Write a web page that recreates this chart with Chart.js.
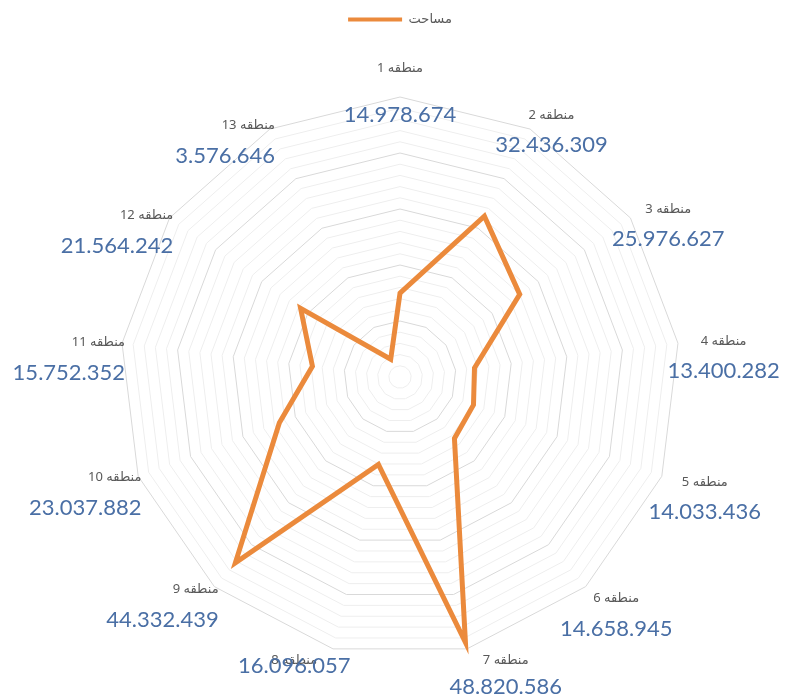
<!DOCTYPE html>
<html>
<head>
<meta charset="utf-8">
<script src="https://cdn.jsdelivr.net/npm/chart.js@4"></script>
<style>
  html, body { margin: 0; padding: 0; background: #fff; }
  #wrap { width: 793px; height: 698px; }
</style>
</head>
<body>
<div id="wrap"><canvas id="radarChart"></canvas></div>
<script>
const regionNames = ["منطقه 1", "منطقه 2", "منطقه 3", "منطقه 4", "منطقه 5", "منطقه 6", "منطقه 7",
  "منطقه 8", "منطقه 9", "منطقه 10", "منطقه 11", "منطقه 12", "منطقه 13"];
const areaValues = [14978674, 32436309, 25976627, 13400282, 14033436, 14658945, 48820586,
  16096057, 44332439, 23037882, 15752352, 21564242, 3576646];
const seriesName = "مساحت";

const ORANGE = "#EB8A3C";
const catFont = "13px 'Noto Sans', 'DejaVu Sans', sans-serif";
const valFont = "22px Lato, 'Open Sans', sans-serif";

function fmt(v) {
  return String(v).replace(/\B(?=(\d{3})+(?!\d))/g, ".");
}

// category + value text round the web, placed from the scale's own positions
const regionLabels = {
  id: "regionLabels",
  afterDraw(chart) {
    const scale = chart.scales.r;
    const ctx = chart.ctx;
    const R = scale.drawingArea;
    ctx.save();
    ctx.textBaseline = "middle";
    regionNames.forEach((name, i) => {
      const a = scale.getIndexAngle(i);
      const s = Math.sin(a), c = Math.cos(a);
      let x, y, align = "center", gap = 30;
      if (c < -0.9) {
        // bottom pair: pushed sideways away from the lowest edge
        const p = scale.getPointPosition(i, R + 12);
        x = p.x + s * 150; y = p.y;
        gap = s > 0 ? 26 : 5;
      } else if (c > 0.95) {
        const p = scale.getPointPosition(i, R + 29);
        x = p.x; y = p.y; gap = 47;
      } else if (s < 0) {
        const p = scale.getPointPosition(i, R + 4);
        x = p.x + 7; y = p.y; align = "right";
      } else {
        const p = scale.getPointPosition(i, R + 16);
        x = p.x + s * 30; y = p.y;
      }
      ctx.textAlign = align;
      ctx.font = catFont;
      ctx.fillStyle = "#595959";
      ctx.fillText(name, x, y);
      ctx.font = valFont;
      ctx.fillStyle = "#4A6FA5";
      ctx.fillText(fmt(areaValues[i]), x, y + gap);
    });
    ctx.restore();
  }
};

// extra room under the legend so the web sits where it should
const legendGap = {
  id: "legendGap",
  beforeInit(chart) {
    const fit = chart.legend.fit;
    chart.legend.fit = function () {
      fit.call(this);
      this.height += 61;
    };
  }
};

new Chart(document.getElementById("radarChart"), {
  type: "radar",
  data: {
    labels: regionNames,
    datasets: [{
      label: seriesName,
      data: areaValues,
      borderColor: ORANGE,
      backgroundColor: ORANGE,
      borderWidth: 5,
      pointRadius: 0,
      pointHoverRadius: 0,
      fill: false,
      tension: 0
    }]
  },
  options: {
    responsive: true,
    maintainAspectRatio: false,
    animation: false,
    layout: { padding: { left: 7, right: 0, top: 3, bottom: 41 } },
    plugins: {
      tooltip: { enabled: false },
      legend: {
        position: "top",
        labels: {
          boxWidth: 54,
          boxHeight: 4,
          color: "#595959",
          font: { size: 13, family: "'Noto Sans', 'DejaVu Sans', sans-serif" },
          generateLabels(chart) {
            const items = Chart.defaults.plugins.legend.labels.generateLabels(chart);
            items.forEach(it => { it.lineWidth = 0; it.fillStyle = ORANGE; });
            return items;
          }
        }
      }
    },
    scales: {
      r: {
        min: 0,
        max: 50000000,
        ticks: { display: false, stepSize: 2000000 },
        angleLines: { display: false },
        pointLabels: { display: false },
        grid: {
          lineWidth: 1,
          color: ctx => (ctx.tick && ctx.tick.value % 10000000 === 0) ? "#D9D9D9" : "#EEEEEE"
        }
      }
    }
  },
  plugins: [regionLabels, legendGap]
});
</script>
</body>
</html>
